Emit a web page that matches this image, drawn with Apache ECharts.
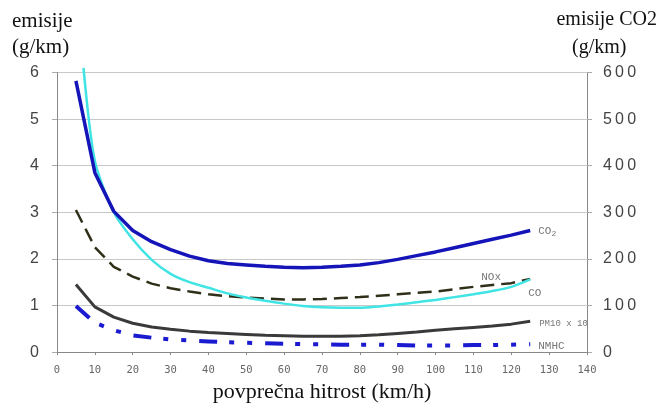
<!DOCTYPE html>
<html>
<head>
<meta charset="utf-8">
<script src="https://cdn.jsdelivr.net/npm/echarts@6/dist/echarts.min.js"></script>
<style>html,body{margin:0;padding:0;background:#fff}#c{width:659px;height:408px}</style>
</head>
<body>
<div id="c"></div>
<script>
// ---- data ----
const speeds = [5,10,15,20,25,30,35,40,45,50,55,60,65,70,75,80,85,90,95,100,105,110,115,120,125];
const co2  = [582,385,302,261,237,220,206,196,190,187,184,182,181,182,184,187,192,199,207,215,224,233,242,251,261];
const nox  = [3.05,2.25,1.83,1.62,1.47,1.37,1.30,1.24,1.20,1.17,1.15,1.13,1.13,1.14,1.16,1.18,1.21,1.24,1.27,1.30,1.35,1.40,1.44,1.48,1.57];
const pm10 = [1.45,0.97,0.75,0.62,0.54,0.49,0.45,0.42,0.40,0.38,0.36,0.35,0.34,0.34,0.34,0.35,0.37,0.40,0.43,0.47,0.50,0.53,0.56,0.60,0.66];
const nmhc = [0.99,0.63,0.47,0.36,0.31,0.27,0.25,0.23,0.21,0.20,0.19,0.18,0.17,0.17,0.16,0.16,0.16,0.15,0.14,0.14,0.14,0.15,0.15,0.16,0.17];
const coSpeeds = [7,10,15,20,25,30,35,40,45,50,55,60,65,70,75,80,85,90,95,100,105,110,115,120,125];
const co   = [6.1,4.1,3.0,2.42,1.98,1.68,1.50,1.38,1.26,1.17,1.10,1.04,0.99,0.96,0.95,0.95,0.98,1.02,1.07,1.12,1.18,1.24,1.31,1.40,1.56];
const xTicks = {min:0, max:140, step:10};
const leftTicks = {min:0, max:6, step:1};
const rightTicks = {min:0, max:600, step:100};
const names = {co2:'CO2', nox:'NOx', co:'CO', pm:'PM10 x 10', nmhc:'NMHC'};

const pairs = (xs, ys) => xs.map((x,i)=>[x, ys[i]]);
const spaced = v => String(v).split('').join('\u2009');

const lblFont = {fontFamily:'Liberation Mono', fontSize:11, color:'#777'};

const chart = echarts.init(document.getElementById('c'), null, {renderer:'canvas'});
chart.setOption({
  animation:false,
  backgroundColor:'#fff',
  grid:{left:57, right:72, top:72.5, bottom:50.5, containLabel:false},
  xAxis:{
    type:'value', min:xTicks.min, max:xTicks.max, interval:xTicks.step,
    name:'povprečna hitrost (km/h)', nameLocation:'middle', nameGap:26,
    nameTextStyle:{fontFamily:'Liberation Serif', fontSize:22, color:'#111'},
    axisLine:{lineStyle:{color:'#888', width:1}},
    axisTick:{show:true, length:3, lineStyle:{color:'#888'}},
    axisLabel:{margin:13, fontFamily:'DejaVu Sans Mono', fontSize:10.5, color:'#666'},
    splitLine:{show:false}
  },
  yAxis:[
    {type:'value', min:leftTicks.min, max:leftTicks.max, interval:leftTicks.step, position:'left',
     axisLine:{show:true, lineStyle:{color:'#888'}},
     axisTick:{show:true, length:5, lineStyle:{color:'#aaa'}},
     axisLabel:{margin:18, fontFamily:'Liberation Sans', fontSize:16, color:'#444'},
     splitLine:{show:true, lineStyle:{color:'#c8c8c8', width:1}}},
    {type:'value', min:rightTicks.min, max:rightTicks.max, interval:rightTicks.step, position:'right',
     axisLine:{show:true, lineStyle:{color:'#888'}},
     axisTick:{show:true, length:5, lineStyle:{color:'#aaa'}},
     axisLabel:{margin:16, fontFamily:'Liberation Sans', fontSize:16, color:'#444', formatter:spaced},
     splitLine:{show:false}}
  ],
  graphic:[
    {type:'text', left:12, top:11, style:{text:'emisije', font:'21px "Liberation Serif"', fill:'#111'}},
    {type:'text', left:12, top:37, style:{text:'(g/km)', font:'21px "Liberation Serif"', fill:'#111'}},
    {type:'text', right:2, top:10, style:{text:'emisije CO2', font:'20px "Liberation Serif"', fill:'#111'}},
    {type:'text', left:572, top:38, style:{text:'(g/km)', font:'20px "Liberation Serif"', fill:'#111'}}
  ],
  series:[
    {name:names.co2, type:'line', yAxisIndex:1, data:pairs(speeds, co2), showSymbol:false, symbol:'none',
     lineStyle:{color:'#1414b8', width:3.5}, z:5,
     endLabel:{show:true, distance:8, offset:[0,1], formatter:'{a|CO}{b|2}',
       rich:{a:{fontFamily:'Liberation Mono', fontSize:11, color:'#777'}, b:{fontFamily:'Liberation Mono', fontSize:8, color:'#777', padding:[5,0,0,0]}}}},
    {name:names.co, type:'line', data:pairs(coSpeeds, co), showSymbol:false, symbol:'none', clip:false, smooth:0.25,
     lineStyle:{color:'#40e4e4', width:2.5}, z:4,
     endLabel:Object.assign({show:true, distance:8, offset:[-10,14], formatter:names.co}, lblFont)},
    {name:names.nox, type:'line', data:pairs(speeds, nox), showSymbol:false, symbol:'none',
     lineStyle:{color:'#30301a', width:2.5, type:[14,7]}, z:3,
     endLabel:Object.assign({show:true, distance:8, offset:[-57,-2], formatter:names.nox}, lblFont)},
    {name:names.pm, type:'line', data:pairs(speeds, pm10), showSymbol:false, symbol:'none',
     lineStyle:{color:'#3a3a3a', width:3}, z:3,
     endLabel:Object.assign({show:true, distance:8, offset:[1,2], formatter:names.pm}, lblFont, {fontSize:9})},
    {name:names.nmhc, type:'line', data:pairs(speeds, nmhc), showSymbol:false, symbol:'none',
     lineStyle:{color:'#1a1ad0', width:4, type:[18,12,5,13,5,13]}, z:3,
     endLabel:Object.assign({show:true, distance:8, offset:[0,2], formatter:names.nmhc}, lblFont)}
  ]
});
</script>
</body>
</html>
